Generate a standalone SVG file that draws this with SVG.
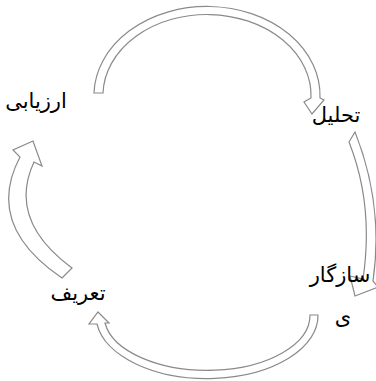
<svg xmlns="http://www.w3.org/2000/svg" width="376" height="381" viewBox="0 0 376 381">
<style>
.arrow{fill:#ffffff;stroke:#8a8a8a;stroke-width:1.2;stroke-linejoin:miter}
.lbl{font-family:"Liberation Serif","DejaVu Serif","DejaVu Sans",serif;font-size:21px;fill:#000;text-anchor:middle}
</style>
<rect width="376" height="381" fill="#ffffff"/>
<g id="connectors">
<path id="arrow-top" class="arrow" d="M94,93 A113,89 0 0 1 320,98 L324,100 L312,114 L304,102 L311,98 A104,81 0 0 0 103,93 Z"/>
<path id="arrow-right" class="arrow" d="M349,142 L355,132 Q384,205 373,281 L378,287 L355,296 L350,276 L363,279 Q374,205 349,142 Z"/>
<path id="arrow-bottom" class="arrow" d="M310,315 L318,315 A111,63 0 0 1 97,324 L89,324 L98,312 L109,323 L105,323 A103,55 0 0 0 310,315 Z"/>
<path id="arrow-left" class="arrow" d="M62,278 L72,268 Q7,220 34,162 L42,166 L33,141 L13,150 L20,157 Q-16,225 62,278 Z"/>
</g>
<g id="node-arzyabi"><text class="lbl" x="36" y="108">ارزیابی</text></g>
<g id="node-tahlil"><text class="lbl" x="336" y="122">تحلیل</text></g>
<g id="node-sazgari"><text class="lbl" x="340" y="282">سازگار</text><text class="lbl" x="343" y="324">ی</text></g>
<g id="node-tarif"><text class="lbl" x="78" y="300">تعریف</text></g>
</svg>
